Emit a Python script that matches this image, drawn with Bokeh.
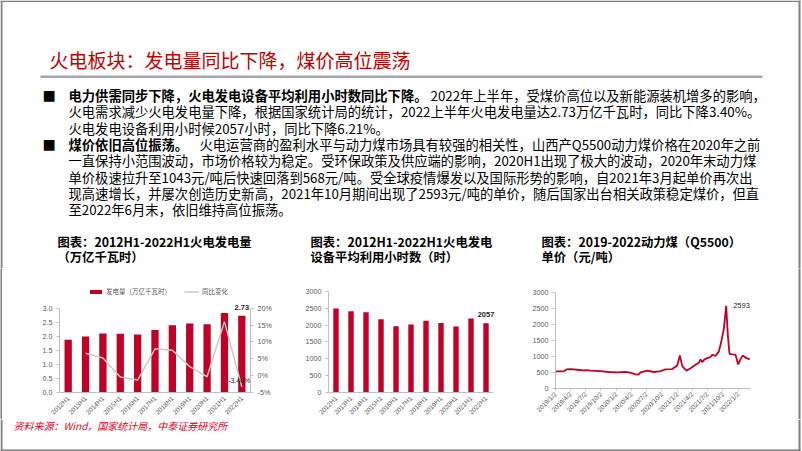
import pandas as pd
from bokeh.plotting import figure
from bokeh.models import (Range1d, LinearAxis, FixedTicker, NumeralTickFormatter,
                          PrintfTickFormatter, Legend, LegendItem, ColumnDataSource, LabelSet)
from bokeh.layouts import column, row
from bokeh.core.properties import value
from bokeh.embed import file_html
from bokeh.resources import INLINE

# ---------------- data ----------------
periods = ["2012H1", "2013H1", "2014H1", "2015H1", "2016H1", "2017H1",
           "2018H1", "2019H1", "2020H1", "2021H1", "2022H1"]
gen_output = [1.87, 1.99, 2.10, 2.09, 2.06, 2.22, 2.39, 2.45, 2.43, 2.83, 2.73]
yoy_periods = periods[1:]
gen_yoy = [6.6, 5.2, -0.5, -1.4, 7.9, 7.5, 2.6, -0.4, 16.0, -3.4]
util_hours = [2490, 2410, 2380, 2170, 1965, 2015, 2125, 2065, 1955, 2193, 2057]

coal_dates = ["2019-01-02", "2019-02-21", "2019-03-09", "2019-04-02", "2019-05-12", "2019-06-21",
              "2019-07-07", "2019-07-31", "2019-09-29", "2019-11-18", "2020-01-07", "2020-02-26",
              "2020-03-27", "2020-04-27", "2020-05-11", "2020-05-27", "2020-07-06", "2020-08-15",
              "2020-09-24", "2020-10-24", "2020-12-03", "2021-01-02", "2021-01-18", "2021-02-01",
              "2021-02-27", "2021-03-23", "2021-04-22", "2021-05-12", "2021-05-22", "2021-06-01",
              "2021-06-15", "2021-07-01", "2021-07-17", "2021-08-02", "2021-08-20", "2021-09-09",
              "2021-09-23", "2021-10-09", "2021-10-23", "2021-11-02", "2021-11-12", "2021-11-28",
              "2021-12-18", "2022-01-03", "2022-01-17", "2022-01-31", "2022-02-12", "2022-02-26",
              "2022-03-14"]
coal_price = [545, 545, 605, 615, 595, 575,
              585, 565, 555, 525, 512, 532,
              505, 450, 440, 510, 565, 525,
              555, 605, 618, 730, 1043, 710,
              568, 640, 750, 815, 920, 835,
              920, 960, 980, 1065, 1025, 1170,
              1460, 1875, 2593, 1670, 1095, 1075,
              1065, 760, 920, 1045, 990, 950,
              920]
coal_tick_dates = ["2019-01-02", "2019-04-02", "2019-07-02", "2019-10-02", "2020-01-02", "2020-04-02",
                   "2020-07-02", "2020-10-02", "2021-01-02", "2021-04-02", "2021-07-02", "2021-10-02",
                   "2022-01-02"]
coal_tick_labels = ["2019/1/2", "2019/4/2", "2019/7/2", "2019/10/2", "2020/1/2", "2020/4/2",
                    "2020/7/2", "2020/10/2", "2021/1/2", "2021/4/2", "2021/7/2", "2021/10/2",
                    "2022/1/2"]
gen_ticks = [0, 0.5, 1.0, 1.5, 2.0, 2.5, 3.0]
yoy_ticks = [-5, 0, 5, 10, 15, 20]
hour_ticks = [0, 500, 1000, 1500, 2000, 2500, 3000]
price_ticks = [0, 500, 1000, 1500, 2000, 2500, 3000]

title_text = "火电板块：发电量同比下降，煤价高位震荡"
body = [
    ("电力供需同步下降，火电发电设备平均利用小时数同比下降。", "2022年上半年，受煤价高位以及新能源装机增多的影响，"),
    ("", "火电需求减少火电发电量下降，根据国家统计局的统计，2022上半年火电发电量达2.73万亿千瓦时，同比下降3.40%。"),
    ("", "火电发电设备利用小时候2057小时，同比下降6.21%。"),
    ("煤价依旧高位振荡。", "火电运营商的盈利水平与动力煤市场具有较强的相关性，山西产Q5500动力煤价格在2020年之前"),
    ("", "一直保持小范围波动，市场价格较为稳定。受环保政策及供应端的影响，2020H1出现了极大的波动，2020年末动力煤"),
    ("", "单价极速拉升至1043元/吨后快速回落到568元/吨。受全球疫情爆发以及国际形势的影响，自2021年3月起单价再次出"),
    ("", "现高速增长，并屡次创造历史新高，2021年10月期间出现了2593元/吨的单价，随后国家出台相关政策稳定煤价，但直"),
    ("", "至2022年6月末，依旧维持高位振荡。"),
]
chart_titles = [
    ("图表：2012H1-2022H1火电发电量", "（万亿千瓦时）"),
    ("图表：2012H1-2022H1火电发电", "设备平均利用小时数（时）"),
    ("图表：2019-2022动力煤（Q5500）", "单价（元/吨）"),
]
legend_labels = ["发电量（万亿千瓦时）", "同比变化"]
source_text = "资料来源：Wind，国家统计局，中泰证券研究所"

# ---------------- styles ----------------
RED = "#C00026"
TITLE_RED = "#C00000"
SRC_RED = "#E0001B"
BORDER = "#7F7F7F"
AXC = "#BFBFBF"
LBL = "#595959"
CJK = "Noto Sans CJK SC"
LAT = "Liberation Sans"

ROW_TOP, ROW_BOT = 268, 419          # page rows occupied by the three charts


def page_fig(w, h, x0, y0, **kw):
    p = figure(width=w, height=h, x_range=Range1d(x0, x0 + w), y_range=Range1d(y0 + h, y0),
               output_backend="svg", toolbar_location=None, x_axis_location=None,
               y_axis_location=None, min_border=0, outline_line_color=None, **kw)
    p.grid.visible = False
    return p


def put_text(p, x, y, s, size, color="#000000", style="normal", font=CJK, align="left"):
    p.text(x=[x], y=[y], text=[s], text_font=value(font), text_font_size=f"{size}px",
           text_color=color, text_font_style=style, text_baseline="middle", text_align=align)


def style_axis(ax, size="7.2px"):
    ax.axis_line_color = AXC
    ax.major_tick_line_color = AXC
    ax.minor_tick_line_color = None
    ax.major_tick_out = 3
    ax.major_tick_in = 0
    ax.major_label_text_color = LBL
    ax.major_label_text_font = LAT
    ax.major_label_text_font_size = size
    ax.major_label_standoff = 4


def style_xaxis(ax):
    ax.fixed_location = 0
    ax.major_label_orientation = 0.785398
    ax.major_label_text_font_size = "6.5px"
    ax.major_label_standoff = 2


def y_span(y_zero, y_top, top_val):
    """value range so that 0 sits at page y_zero and top_val at page y_top (frame = whole row)"""
    per = (y_zero - y_top) / top_val
    return (y_zero - ROW_BOT) / per, (y_zero - ROW_TOP) / per


def x_span(px_lo, px_hi, v_lo, v_hi, fig_lo, fig_hi):
    """value range so that v_lo/v_hi sit at page px_lo/px_hi (frame = whole figure width)"""
    per = (px_hi - px_lo) / (v_hi - v_lo)
    return v_lo - (px_lo - fig_lo) / per, v_hi + (fig_hi - px_hi) / per


def chart(fig_lo, fig_hi, xr, yr):
    p = figure(width=fig_hi - fig_lo, height=ROW_BOT - ROW_TOP, x_range=Range1d(*xr),
               y_range=Range1d(*yr), output_backend="svg", toolbar_location=None,
               min_border=0, outline_line_color=None)
    p.grid.visible = False
    return p


# ---------------- header (page y 0..268) ----------------
hdr = page_fig(802, ROW_TOP, 0, 0)
hdr.quad(left=[0, 0, 798], right=[2, 800, 800], top=[0, 0, 0], bottom=[ROW_TOP, 1.6, ROW_TOP],
         fill_color=BORDER, line_color=None)
hdr.quad(left=[40], right=[762], top=[75], bottom=[77.5], fill_color="#A6A6A6", line_color=None)
put_text(hdr, 49, 59, title_text, 19, color=TITLE_RED)

LINE_Y0, LINE_DY, FS = 95, 16.3, 13.3
normal_start = {0: 430, 3: 199}
for i, (bold, normal) in enumerate(body):
    y = LINE_Y0 + i * LINE_DY
    if bold:
        put_text(hdr, 42, y, "■", FS)
        put_text(hdr, 68, y, bold, FS, style="bold")
        put_text(hdr, normal_start[i], y, normal, FS)
    else:
        put_text(hdr, 68, y, normal, FS)

for (l1, l2), x in zip(chart_titles, [57, 310, 541]):
    put_text(hdr, x, 241.7, l1, 12.3, style="bold")
    put_text(hdr, x, 256.7, l2, 12.3, style="bold")

idx = list(range(len(periods)))
lo_edge, hi_edge = idx[0] - 0.5, idx[-1] + 0.5

# ---------------- chart 1 (page 2..275; plot area x 59..250; 0 at y 391.7, 3.0 at y 307.7) ----------------
g_lo, g_hi = y_span(391.7, 307.7, 3.0)
c1 = chart(2, 275, x_span(59, 250, lo_edge, hi_edge, 2, 275), (g_lo, g_hi))
c1.extra_y_ranges = {"yoy": Range1d(-5 + g_lo * 25 / 3, -5 + g_hi * 25 / 3)}
c1.yaxis.ticker = FixedTicker(ticks=gen_ticks)
c1.yaxis.formatter = NumeralTickFormatter(format="0.0")
c1.yaxis.bounds = (0, 3)
c1.yaxis.fixed_location = lo_edge
rax = LinearAxis(y_range_name="yoy", ticker=FixedTicker(ticks=yoy_ticks),
                 formatter=PrintfTickFormatter(format="%d%%"), bounds=(-5, 20), fixed_location=hi_edge)
c1.add_layout(rax, "right")
c1.xaxis.ticker = FixedTicker(ticks=idx)
c1.xaxis.major_label_overrides = {i: s for i, s in zip(idx, periods)}
c1.xaxis.bounds = (lo_edge, hi_edge)
for ax in c1.axis:
    style_axis(ax)
style_xaxis(c1.xaxis[0])
c1.xaxis.major_tick_line_color = None

src1 = ColumnDataSource(dict(x=idx, top=gen_output))
bars1 = c1.vbar(x="x", top="top", width=0.42, source=src1, fill_color=RED, line_color=None)
line1 = c1.line(x=idx[1:], y=gen_yoy, y_range_name="yoy", line_color="#C8C8C8", line_width=1.5)

c1.add_layout(LabelSet(x="x", y="y", text="t", y_offset=8, text_align="center", text_baseline="middle",
                       text_font=value(LAT), text_font_size="7.5px", text_font_style="bold",
                       text_color="#262626",
                       source=ColumnDataSource(dict(x=[idx[-1]], y=[gen_output[-1]],
                                                    t=[f"{gen_output[-1]:.2f}"]))))
c1.add_layout(LabelSet(x="x", y="y", text="t", x_offset=8.5, y_offset=6, text_align="right",
                       text_baseline="middle", y_range_name="yoy", text_font=value(LAT),
                       text_font_size="7px", text_color="#262626",
                       source=ColumnDataSource(dict(x=[idx[-1]], y=[gen_yoy[-1]],
                                                    t=[f"{gen_yoy[-1]:.2f}%"]))))

leg = Legend(items=[LegendItem(label=value(legend_labels[0]), renderers=[bars1]),
                    LegendItem(label=value(legend_labels[1]), renderers=[line1])],
             location=(86, ROW_BOT - 296), orientation="horizontal")
leg.background_fill_alpha = 0
leg.border_line_color = None
leg.padding = 0
leg.margin = 0
leg.spacing = 13
leg.glyph_width = 15
leg.glyph_height = 5
leg.label_height = 8
leg.label_width = 10
leg.label_standoff = 3
leg.label_text_font = CJK
leg.label_text_font_size = "6.5px"
leg.label_text_color = LBL
c1.add_layout(leg)

# ---------------- chart 2 (page 275..520; plot area x 328..493; 0 at 391.7, 3000 at 291) ----------------
c2 = chart(275, 520, x_span(328, 493, lo_edge, hi_edge, 275, 520), y_span(391.7, 291, 3000))
c2.yaxis.ticker = FixedTicker(ticks=hour_ticks)
c2.yaxis.bounds = (0, 3000)
c2.yaxis.fixed_location = lo_edge
c2.xaxis.ticker = FixedTicker(ticks=idx)
c2.xaxis.major_label_overrides = {i: s for i, s in zip(idx, periods)}
c2.xaxis.bounds = (lo_edge, hi_edge)
for ax in c2.axis:
    style_axis(ax)
style_xaxis(c2.xaxis[0])
c2.xaxis.major_tick_line_color = None
src2 = ColumnDataSource(dict(x=idx, top=util_hours))
c2.vbar(x="x", top="top", width=0.36, source=src2, fill_color=RED, line_color=None)
c2.add_layout(LabelSet(x="x", y="y", text="t", y_offset=9, text_align="center", text_baseline="middle",
                       text_font=value(LAT), text_font_size="7.5px", text_font_style="bold",
                       text_color="#262626",
                       source=ColumnDataSource(dict(x=[idx[-1]], y=[util_hours[-1]],
                                                    t=[str(util_hours[-1])]))))

# ---------------- chart 3 (page 520..798; plot area x 555..750; 0 at 388.3, 3000 at 292.3) ----------------
t0 = pd.Timestamp(coal_dates[0])
coal_days = [int((pd.Timestamp(d) - t0).days) for d in coal_dates]
tick_days = [int((pd.Timestamp(d) - t0).days) for d in coal_tick_dates]
x_end = 1171

c3 = chart(520, 798, x_span(555, 750, 0, x_end, 520, 798), y_span(388.3, 292.3, 3000))
c3.yaxis.ticker = FixedTicker(ticks=price_ticks)
c3.yaxis.bounds = (0, 3000)
c3.yaxis.fixed_location = 0
c3.xaxis.ticker = FixedTicker(ticks=tick_days)
c3.xaxis.major_label_overrides = {d: lab for d, lab in zip(tick_days, coal_tick_labels)}
c3.xaxis.bounds = (0, x_end)
for ax in c3.axis:
    style_axis(ax)
style_xaxis(c3.xaxis[0])
c3.xaxis.major_tick_out = 2
c3.line(x=coal_days, y=coal_price, line_color=RED, line_width=1.8)
ipk = coal_price.index(max(coal_price))
c3.add_layout(LabelSet(x="x", y="y", text="t", x_offset=7, text_align="left", text_baseline="middle",
                       text_font=value(LAT), text_font_size="7.5px", text_color="#262626",
                       source=ColumnDataSource(dict(x=[coal_days[ipk]], y=[coal_price[ipk]],
                                                    t=[str(coal_price[ipk])]))))

# ---------------- strips / footer ----------------
lstrip = page_fig(2, ROW_BOT - ROW_TOP, 0, 0, background_fill_color=BORDER, border_fill_color=BORDER)
rstrip = figure(width=4, height=ROW_BOT - ROW_TOP, output_backend="svg", toolbar_location=None,
                x_axis_location=None, y_axis_location=None, min_border_left=0, min_border_top=0,
                min_border_bottom=0, min_border_right=2, outline_line_color=None,
                background_fill_color=BORDER, border_fill_color="white")
rstrip.grid.visible = False

ftr = page_fig(802, 451 - ROW_BOT, 0, ROW_BOT)
ftr.quad(left=[0, 798, 0], right=[2, 800, 800], top=[ROW_BOT, ROW_BOT, 449], bottom=[451, 451, 450.6],
         fill_color=BORDER, line_color=None)
put_text(ftr, 13, 425, source_text, 10, color=SRC_RED, style="italic")

layout = column(hdr, row(lstrip, c1, c2, c3, rstrip), ftr)
open("out.html", "w").write(file_html(layout, INLINE))
